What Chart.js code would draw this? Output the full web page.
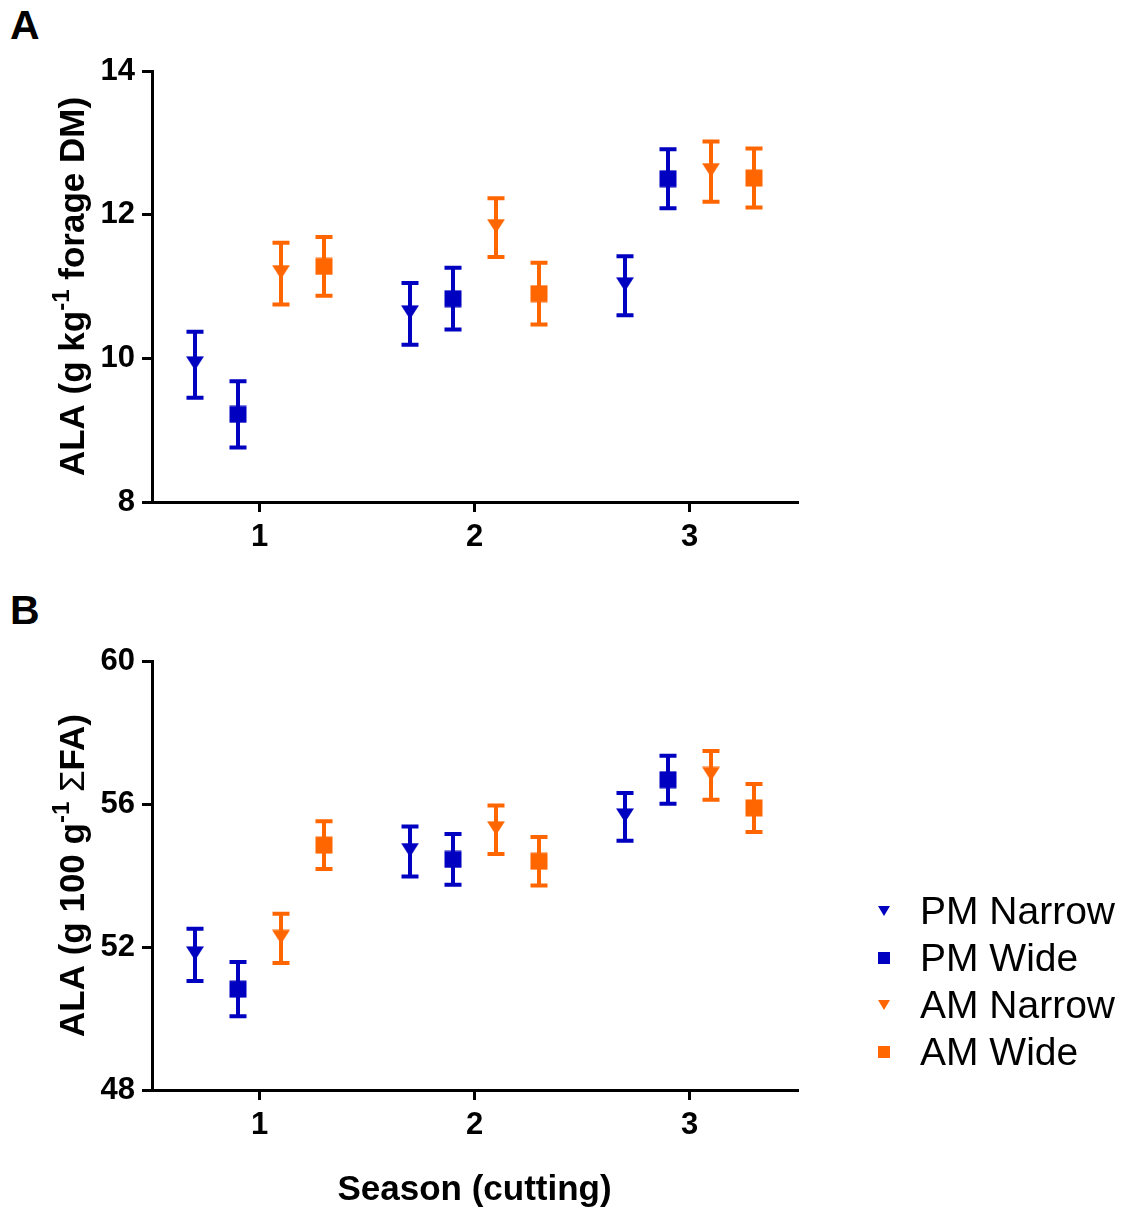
<!DOCTYPE html>
<html>
<head>
<meta charset="utf-8">
<script src="https://cdn.jsdelivr.net/npm/chart.js@4.4.1/dist/chart.umd.min.js"></script>
<style>
body{margin:0;background:#fff;width:1128px;height:1211px;position:relative;overflow:hidden;font-family:"Liberation Sans",Arial,sans-serif}
canvas{position:absolute;left:0}
#chartA{top:0}
#chartB{top:590px}
.panel{position:absolute;left:10px;font-weight:bold;font-size:41px;line-height:41px}
#legend{position:absolute;left:870px;top:887px}
.item{height:47px;line-height:47px;display:flex;align-items:center;font-size:39px;color:#000}
.mk{width:28px;height:47px;display:flex;align-items:center;justify-content:center;margin-right:22px}
.tri{width:0;height:0;border-left:6px solid transparent;border-right:6px solid transparent;border-top:10px solid}
.sq{width:12px;height:12px}
</style>
</head>
<body>
<div class="panel" style="top:5px">A</div>
<div class="panel" style="top:590px">B</div>
<canvas id="chartA" width="1128" height="590"></canvas>
<canvas id="chartB" width="1128" height="621"></canvas>
<div id="legend"></div>
<script>
const seasons = [1, 2, 3];
const seriesNames = ["PM Narrow", "PM Wide", "AM Narrow", "AM Wide"];

// A: ALA g/kg forage DM, mean and error per season
const pmNarrowA = [9.91, 10.62, 11.01];
const pmNarrowAErr = [0.46, 0.43, 0.41];
const pmWideA = [9.22, 10.83, 12.50];
const pmWideAErr = [0.46, 0.43, 0.41];
const amNarrowA = [11.18, 11.82, 12.60];
const amNarrowAErr = [0.43, 0.41, 0.42];
const amWideA = [11.28, 10.90, 12.51];
const amWideAErr = [0.41, 0.43, 0.41];

// B: ALA g/100 g FA
const pmNarrowB = [51.78, 54.67, 55.64];
const pmNarrowBErr = [0.73, 0.70, 0.67];
const pmWideB = [50.82, 54.45, 56.68];
const pmWideBErr = [0.76, 0.71, 0.67];
const amNarrowB = [52.24, 55.28, 56.80];
const amNarrowBErr = [0.69, 0.68, 0.68];
const amWideB = [54.85, 54.40, 55.89];
const amWideBErr = [0.67, 0.68, 0.67];

const BLUE = "#0000C0";
const ORANGE = "#FF6600";
const FONT = '"Liberation Sans", Arial, sans-serif';

function makeMarker(shape, color) {
    const c = document.createElement("canvas");
    c.width = 18; c.height = 18;
    const g = c.getContext("2d");
    g.fillStyle = color;
    if (shape === "tri") {
        g.beginPath();
        g.moveTo(0, 0.5);
        g.lineTo(18, 0.5);
        g.lineTo(9, 14.5);
        g.closePath();
        g.fill();
    } else {
        g.fillRect(0.5, 0.5, 17, 17);
    }
    return c;
}

const seriesStyle = [
    {shape: "tri", color: BLUE, offset: -0.3},
    {shape: "sq", color: BLUE, offset: -0.1},
    {shape: "tri", color: ORANGE, offset: 0.1},
    {shape: "sq", color: ORANGE, offset: 0.3}
];

// error bars drawn under the markers
const errorBars = {
    id: "errorBars",
    beforeDatasetsDraw(chart) {
        const ctx = chart.ctx;
        const y = chart.scales.y;
        chart.data.datasets.forEach((ds, i) => {
            const meta = chart.getDatasetMeta(i);
            ctx.save();
            ctx.strokeStyle = ds.borderColor;
            ctx.lineWidth = 4;
            meta.data.forEach((pt, j) => {
                const v = ds.data[j].y, e = ds.errors[j];
                const top = y.getPixelForValue(v + e), bot = y.getPixelForValue(v - e);
                ctx.beginPath();
                ctx.moveTo(pt.x, top); ctx.lineTo(pt.x, bot);
                ctx.moveTo(pt.x - 8.5, top); ctx.lineTo(pt.x + 8.5, top);
                ctx.moveTo(pt.x - 8.5, bot); ctx.lineTo(pt.x + 8.5, bot);
                ctx.stroke();
            });
            ctx.restore();
        });
    }
};

// rotated y title with superscript parts
const yTitle = {
    id: "yTitle",
    afterDraw(chart, args, opts) {
        const ctx = chart.ctx;
        const area = chart.chartArea;
        const fontOf = p => p.sup ? "bold 24px " + FONT : (p.normal ? "35px " + FONT : "bold 35px " + FONT);
        let total = 0;
        opts.parts.forEach(p => { ctx.font = fontOf(p); p.w = ctx.measureText(p.text).width; total += p.w; });
        ctx.save();
        ctx.fillStyle = "#000";
        ctx.textBaseline = "alphabetic";
        ctx.translate(opts.x, (area.top + area.bottom) / 2);
        ctx.rotate(-Math.PI / 2);
        let cx = -total / 2;
        opts.parts.forEach(p => {
            ctx.font = fontOf(p);
            ctx.fillText(p.text, cx, p.sup ? -15 : 0);
            cx += p.w;
        });
        ctx.restore();
    }
};

function buildDatasets(values, errors) {
    return values.map((vals, i) => ({
        label: seriesNames[i],
        data: vals.map((v, j) => ({x: seasons[j] + seriesStyle[i].offset, y: v})),
        errors: errors[i],
        borderColor: seriesStyle[i].color,
        backgroundColor: seriesStyle[i].color,
        pointStyle: makeMarker(seriesStyle[i].shape, seriesStyle[i].color),
        showLine: false
    }));
}

function createChart(id, values, errors, yMin, yMax, titleParts, bottomSpace, xTitle) {
    const axisGrid = {drawOnChartArea: false, drawTicks: true, tickLength: 10, lineWidth: 3, tickWidth: 3, color: "#000", tickColor: "#000"};
    const tickFont = {family: FONT, size: 31, weight: "bold"};
    return new Chart(document.getElementById(id), {
        type: "scatter",
        data: {datasets: buildDatasets(values, errors)},
        plugins: [errorBars, yTitle],
        options: {
            responsive: false,
            animation: false,
            events: [],
            layout: {padding: {top: 71, right: 331, bottom: 0, left: 0}},
            plugins: {
                legend: {display: false},
                tooltip: {enabled: false},
                yTitle: {x: 84, parts: titleParts}
            },
            scales: {
                x: {
                    type: "linear",
                    min: 0.5,
                    max: 3.5,
                    afterBuildTicks: s => { s.ticks = seasons.map(v => ({value: v})); },
                    afterFit: s => { s.height = bottomSpace; },
                    grid: axisGrid,
                    border: {display: true, color: "#000", width: 3},
                    ticks: {color: "#000", font: tickFont, padding: 7},
                    title: {
                        display: !!xTitle,
                        text: xTitle || "",
                        color: "#000",
                        font: {family: FONT, size: 35, weight: "bold"},
                        padding: {top: 0, bottom: 0}
                    }
                },
                y: {
                    min: yMin,
                    max: yMax,
                    afterFit: s => { s.width = 152; },
                    grid: axisGrid,
                    border: {display: true, color: "#000", width: 3},
                    ticks: {stepSize: (yMax - yMin) / 3, color: "#000", font: tickFont, padding: 7}
                }
            }
        }
    });
}

createChart("chartA",
    [pmNarrowA, pmWideA, amNarrowA, amWideA],
    [pmNarrowAErr, pmWideAErr, amNarrowAErr, amWideAErr],
    8, 14,
    [{text: "ALA (g kg"}, {text: "-1", sup: true}, {text: " forage DM)"}],
    88, null);

createChart("chartB",
    [pmNarrowB, pmWideB, amNarrowB, amWideB],
    [pmNarrowBErr, pmWideBErr, amNarrowBErr, amWideBErr],
    48, 60,
    [{text: "ALA (g 100 g"}, {text: "-1", sup: true}, {text: " "}, {text: "Σ", normal: true}, {text: "FA)"}],
    121, "Season (cutting)");

// legend
const legend = document.getElementById("legend");
seriesNames.forEach((name, i) => {
    const st = seriesStyle[i];
    const item = document.createElement("div");
    item.className = "item";
    const mk = document.createElement("span");
    mk.className = "mk";
    const shape = document.createElement("span");
    shape.className = st.shape;
    if (st.shape === "tri") shape.style.borderTopColor = st.color; else shape.style.background = st.color;
    mk.appendChild(shape);
    const txt = document.createElement("span");
    txt.textContent = name;
    item.appendChild(mk);
    item.appendChild(txt);
    legend.appendChild(item);
});
</script>
</body>
</html>
